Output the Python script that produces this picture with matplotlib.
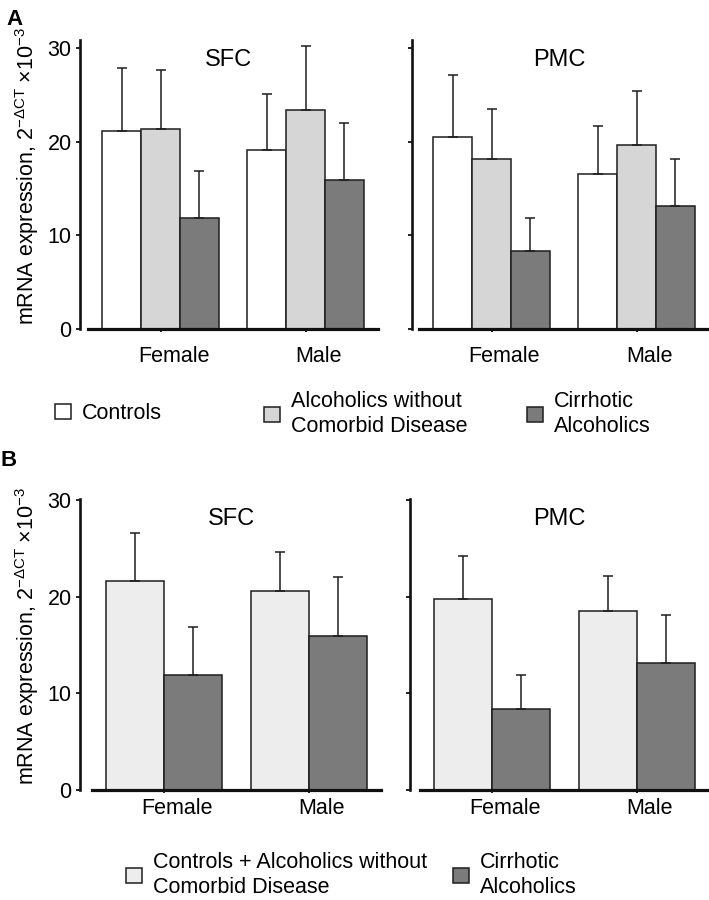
"""
Grouped bar chart: mRNA expression in SFC / PMC by sex and diagnostic group.
"""

import numpy as np
import matplotlib
matplotlib.use('Agg')
import matplotlib.pyplot as plt
import matplotlib.transforms as mtransforms

plt.rcParams['font.family'] = ['Liberation Sans', 'DejaVu Sans']
plt.rcParams['mathtext.fontset'] = 'custom'
plt.rcParams['mathtext.rm'] = 'Liberation Sans'
plt.rcParams['mathtext.it'] = 'Liberation Sans:italic'
plt.rcParams['mathtext.bf'] = 'Liberation Sans:bold'

# ---- data ----
sexes = ['Female', 'Male']
regions = ['SFC', 'PMC']

# panel A: three groups
controls_mean = {'SFC': [21.1, 19.1], 'PMC': [20.5, 16.5]}
controls_err = {'SFC': [6.8, 6.0], 'PMC': [6.6, 5.2]}
alcoholics_mean = {'SFC': [21.3, 23.4], 'PMC': [18.1, 19.6]}
alcoholics_err = {'SFC': [6.3, 6.8], 'PMC': [5.4, 5.8]}
cirrhotic_mean = {'SFC': [11.9, 15.9], 'PMC': [8.35, 13.1]}
cirrhotic_err = {'SFC': [5.0, 6.1], 'PMC': [3.5, 5.0]}

# panel B: controls + alcoholics pooled vs cirrhotic
pooled_mean = {'SFC': [21.6, 20.6], 'PMC': [19.75, 18.5]}
pooled_err = {'SFC': [5.0, 4.0], 'PMC': [4.45, 3.6]}

labels_a = ['Controls', 'Alcoholics without\nComorbid Disease', 'Cirrhotic\nAlcoholics']
labels_b = ['Controls + Alcoholics without\nComorbid Disease', 'Cirrhotic\nAlcoholics']

colors_a = ['#ffffff', '#d6d6d6', '#7b7b7b']
colors_b = ['#ededed', '#7b7b7b']

EDGE = '#1e1e1e'
W, H = 709, 900

fig = plt.figure(figsize=(W / 100, H / 100), dpi=100)


def px_rect(left, top, right, bottom):
    """pixel box (from top-left) -> figure fraction rect"""
    return [left / W, 1 - bottom / H, (right - left) / W, (bottom - top) / H]


def draw_panel(ax, series, width, title, ytop, show_yticklabels, spine_off, xlabel_pad):
    x = np.arange(len(sexes))
    n = len(series)
    containers = []
    for i, (means, errs, color) in enumerate(series):
        pos = x + (i - (n - 1) / 2) * width
        bars = ax.bar(pos, means, width=width, color=color, edgecolor=EDGE,
                      linewidth=1.1, zorder=2)
        ax.errorbar(pos, means, yerr=[np.zeros(len(errs)), errs], fmt='none',
                    ecolor=EDGE, elinewidth=1.1, capsize=3.6, capthick=1.1, zorder=3)
        containers.append(bars)

    ax.set_xlim(-0.5, 1.5)
    ax.set_ylim(0, ytop)
    ax.set_yticks([0, 10, 20, 30])
    ax.set_xticks(x)
    ax.set_xticklabels(sexes, fontsize=15.5)

    for s in ['top', 'right']:
        ax.spines[s].set_visible(False)
    ax.spines['bottom'].set_linewidth(2.3)
    ax.spines['left'].set_linewidth(1.9)
    ax.spines['bottom'].set_color('#111111')
    ax.spines['left'].set_color('#111111')
    ax.spines['left'].set_position(('outward', spine_off))

    ax.tick_params(axis='y', direction='out', length=3, width=1.3, pad=3,
                   labelsize=15.5, color='#111111', labelleft=show_yticklabels)
    ax.tick_params(axis='x', direction='out', length=2.5, width=1.3,
                   pad=xlabel_pad, color='#111111')

    # tick labels sit a little right of the ticks in the original
    shift = mtransforms.ScaledTranslation(13 / 100, 0, fig.dpi_scale_trans)
    for lab in ax.get_xticklabels():
        lab.set_transform(lab.get_transform() + shift)

    ax.text(0.483, 0.932, title, transform=ax.transAxes, ha='center', va='center',
            fontsize=17)
    ax.patch.set_visible(False)
    return containers


ylabel = r'mRNA expression, 2$^{-\Delta\mathrm{CT}}$ ×10$^{-3}$'

# ---- panel A ----
a_boxes = {'SFC': px_rect(88, 40, 378, 329), 'PMC': px_rect(419, 40, 709, 329)}
a_off = {'SFC': 5.8, 'PMC': 5.3}
for r in regions:
    ax = fig.add_axes(a_boxes[r])
    series = [(controls_mean[r], controls_err[r], colors_a[0]),
              (alcoholics_mean[r], alcoholics_err[r], colors_a[1]),
              (cirrhotic_mean[r], cirrhotic_err[r], colors_a[2])]
    cont_a = draw_panel(ax, series, 0.267, r, 30.85, r == 'SFC', a_off[r], 9.4)

fig.text(41 / W, 1 - 176 / H, ylabel, rotation=90, ha='right', va='center', fontsize=15.5)

# ---- panel B ----
b_boxes = {'SFC': px_rect(91.5, 499, 381.5, 790), 'PMC': px_rect(419.5, 499, 709, 790)}
b_off = {'SFC': 8.3, 'PMC': 6.8}
for r in regions:
    ax = fig.add_axes(b_boxes[r])
    series = [(pooled_mean[r], pooled_err[r], colors_b[0]),
              (cirrhotic_mean[r], cirrhotic_err[r], colors_b[1])]
    cont_b = draw_panel(ax, series, 0.4, r, 30.1, r == 'SFC', b_off[r], 3)

fig.text(41 / W, 1 - 636 / H, ylabel, rotation=90, ha='right', va='center', fontsize=15.5)

# ---- legends: one per entry so the uneven spacing can be kept ----
def legend_entry(handle, label, x_px, y_px):
    leg = fig.legend([handle], [label], loc='center left',
                     bbox_to_anchor=(x_px / W, 1 - y_px / H), frameon=False,
                     fontsize=15.5, handlelength=0.75, handleheight=0.7,
                     handletextpad=0.5, borderpad=0, borderaxespad=0)
    for t in leg.get_texts():
        t.set_linespacing(1.3)
    return leg

for cont, lab, xp in zip(cont_a, labels_a, [55, 264, 527]):
    legend_entry(cont[0], lab, xp, 414)

for cont, lab, xp in zip(cont_b, labels_b, [126, 453]):
    legend_entry(cont[0], lab, xp, 875)

# panel letters
fig.text(6 / W, 1 - 9 / H, 'A', fontsize=16, fontweight='bold', ha='left', va='top')
fig.text(1 / W, 1 - 450 / H, 'B', fontsize=16, fontweight='bold', ha='left', va='top')

fig.savefig('out.png', dpi=100)
